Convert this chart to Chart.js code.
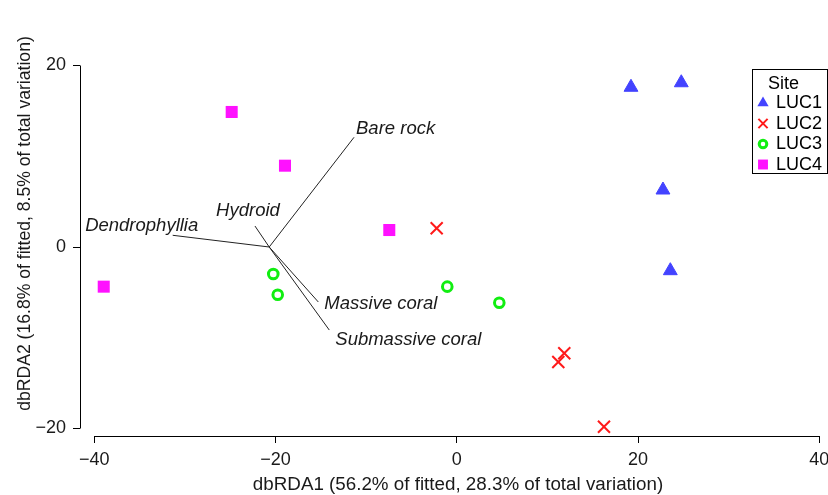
<!DOCTYPE html>
<html>
<head>
<meta charset="utf-8">
<script src="https://cdn.jsdelivr.net/npm/chart.js@4/dist/chart.umd.min.js"></script>
<style>
  html, body { margin: 0; padding: 0; background: #fff; }
  #wrap { width: 828px; height: 495px; position: relative; }
</style>
</head>
<body>
<div id="wrap"><canvas id="c" width="828" height="495"></canvas></div>
<script>
// ---------- DATA ----------
const siteNames = ['LUC1', 'LUC2', 'LUC3', 'LUC4'];
const luc1X = [19.22, 24.77, 22.75, 23.56];
const luc1Y = [17.60, 18.10, 6.28, -2.61];
const luc2X = [-2.22, 11.86, 11.20, 16.24];
const luc2Y = [2.06, -11.71, -12.67, -19.80];
const luc3X = [-20.25, -19.76, -1.05, 4.69];
const luc3Y = [-2.98, -5.26, -4.37, -6.14];
const luc4X = [-24.84, -18.96, -7.45, -38.96];
const luc4Y = [14.88, 8.96, 1.87, -4.37];

const vectorNames = ['Bare rock', 'Dendrophyllia', 'Hydroid', 'Massive coral', 'Submassive coral'];
const vectorOriginX = -20.7;
const vectorOriginY = 0.0;
const vectorEndX = [-11.34, -31.35, -22.27, -15.28, -14.07];
const vectorEndY = [12.09, 1.29, 2.31, -6.06, -9.15];

const xTicks = [-40, -20, 0, 20, 40];
const xTickLabels = ['\u221240', '\u221220', '0', '20', '40'];
const yTicks = [-20, 0, 20];
const yTickLabels = ['\u221220', '0', '20'];

const xTitle = 'dbRDA1 (56.2% of fitted, 28.3% of total variation)';
const yTitle = 'dbRDA2 (16.8% of fitted, 8.5% of total variation)';
const legendTitle = 'Site';

// ---------- STYLES / LAYOUT ----------
const FONT = '"Liberation Sans", Arial, Helvetica, sans-serif';
const TEXT = '#1a1a1a';
const siteStyles = [
  { pointStyle: 'triangle', color: '#4343ff', radius: 8, borderWidth: 1, fill: true, legendRadius: 6.5 },
  { pointStyle: 'crossRot', color: '#ff1a1a', radius: 8.5, borderWidth: 2, fill: false, legendRadius: 6.5 },
  { pointStyle: 'circle', color: '#11ee11', radius: 4.8, borderWidth: 3, fill: false, legendRadius: 3.8 },
  { pointStyle: 'rect', color: '#ff11ff', radius: 8.5, borderWidth: 0, fill: true, legendRadius: 7 }
];
// label offsets (px) relative to each vector end: [dx, dy, align]
const vectorLabelOffsets = [
  [2, -8.5, 'left'],
  [-31, -9.5, 'center'],
  [-7, -15, 'center'],
  [6, 1.5, 'left'],
  [6, 9.5, 'left']
];
// where the first/last tick should land on the canvas (px)
const X_TICK_PX = [94.3, 819.3];
const Y_TICK_PX = [428.5, 65.5];
const X_TITLE_POS = [458, 485];

const siteX = [luc1X, luc2X, luc3X, luc4X];
const siteY = [luc1Y, luc2Y, luc3Y, luc4Y];

const datasets = [];
vectorNames.forEach((name, i) => {
  datasets.push({
    label: name,
    type: 'scatter',
    showLine: true,
    data: [{ x: vectorOriginX, y: vectorOriginY }, { x: vectorEndX[i], y: vectorEndY[i] }],
    borderColor: '#222',
    borderWidth: 1,
    pointRadius: 0,
    pointHoverRadius: 0,
    clip: false,
    order: 10
  });
});
siteNames.forEach((name, i) => {
  const s = siteStyles[i];
  datasets.push({
    label: name,
    type: 'scatter',
    data: siteX[i].map((x, j) => ({ x: x, y: siteY[i][j] })),
    pointStyle: s.pointStyle,
    pointRadius: s.radius,
    pointHoverRadius: s.radius,
    pointBorderWidth: s.borderWidth,
    borderColor: s.color,
    backgroundColor: s.fill ? s.color : 'rgba(0,0,0,0)',
    clip: false,
    order: 1
  });
});

const axisLinesPlugin = {
  id: 'axisLines',
  afterDraw(chart) {
    const ctx = chart.ctx;
    const xs = chart.scales.x, ys = chart.scales.y;
    ctx.save();
    ctx.strokeStyle = '#000';
    ctx.lineWidth = 1;
    const yb = Math.round(chart.chartArea.bottom) + 0.5;
    ctx.beginPath();
    ctx.moveTo(xs.getPixelForValue(xTicks[0]), yb);
    ctx.lineTo(xs.getPixelForValue(xTicks[xTicks.length - 1]), yb);
    ctx.stroke();
    const xl = Math.round(chart.chartArea.left) + 0.5;
    ctx.beginPath();
    ctx.moveTo(xl, ys.getPixelForValue(yTicks[0]));
    ctx.lineTo(xl, ys.getPixelForValue(yTicks[yTicks.length - 1]));
    ctx.stroke();
    // x-axis title
    ctx.fillStyle = TEXT;
    ctx.font = '18.8px ' + FONT;
    ctx.textAlign = 'center';
    ctx.textBaseline = 'middle';
    ctx.fillText(xTitle, X_TITLE_POS[0], X_TITLE_POS[1]);
    ctx.restore();
  }
};

const vectorLabelPlugin = {
  id: 'vectorLabels',
  afterDatasetsDraw(chart) {
    const ctx = chart.ctx;
    const xs = chart.scales.x, ys = chart.scales.y;
    ctx.save();
    ctx.font = 'italic 18.5px ' + FONT;
    ctx.fillStyle = TEXT;
    ctx.textBaseline = 'middle';
    vectorNames.forEach((name, i) => {
      const o = vectorLabelOffsets[i];
      ctx.textAlign = o[2];
      ctx.fillText(name, xs.getPixelForValue(vectorEndX[i]) + o[0], ys.getPixelForValue(vectorEndY[i]) + o[1]);
    });
    ctx.restore();
  }
};

function drawMarker(ctx, style, r, x, y) {
  ctx.save();
  ctx.strokeStyle = style.color;
  ctx.fillStyle = style.color;
  ctx.lineWidth = style.borderWidth || 1;
  ctx.beginPath();
  if (style.pointStyle === 'triangle') {
    let rad = 0;
    ctx.moveTo(x + Math.sin(rad) * r, y - Math.cos(rad) * r);
    rad += 2 * Math.PI / 3;
    ctx.lineTo(x + Math.sin(rad) * r, y - Math.cos(rad) * r);
    rad += 2 * Math.PI / 3;
    ctx.lineTo(x + Math.sin(rad) * r, y - Math.cos(rad) * r);
    ctx.closePath();
    ctx.fill();
  } else if (style.pointStyle === 'crossRot') {
    const d = r * Math.SQRT1_2;
    ctx.moveTo(x - d, y - d); ctx.lineTo(x + d, y + d);
    ctx.moveTo(x - d, y + d); ctx.lineTo(x + d, y - d);
    ctx.stroke();
  } else if (style.pointStyle === 'circle') {
    ctx.arc(x, y, r, 0, Math.PI * 2);
    ctx.stroke();
  } else {
    const s = r * Math.SQRT1_2;
    ctx.fillRect(x - s, y - s, 2 * s, 2 * s);
  }
  ctx.restore();
}

const legendPlugin = {
  id: 'siteLegend',
  afterDraw(chart) {
    const ctx = chart.ctx;
    const left = 752.5, top = 69.5, right = 827.5, bottom = 173.5;
    ctx.save();
    ctx.fillStyle = '#fff';
    ctx.fillRect(left, top, right - left, bottom - top);
    ctx.strokeStyle = '#000';
    ctx.lineWidth = 1;
    ctx.strokeRect(left, top, right - left, bottom - top);
    ctx.fillStyle = '#000';
    ctx.font = '18px ' + FONT;
    ctx.textBaseline = 'middle';
    ctx.textAlign = 'center';
    ctx.fillText(legendTitle, 783.5, 84);
    ctx.textAlign = 'left';
    siteNames.forEach((name, i) => {
      const y = 103 + i * 20.5;
      drawMarker(ctx, siteStyles[i], siteStyles[i].legendRadius, 763, y);
      ctx.fillStyle = '#000';
      ctx.fillText(name, 776, y + 0.5);
    });
    ctx.restore();
  }
};

const chart = new Chart(document.getElementById('c'), {
  type: 'scatter',
  data: { datasets: datasets },
  options: {
    responsive: false,
    animation: false,
    devicePixelRatio: 1,
    layout: { padding: { top: 11, right: 0, left: 0, bottom: 0 } },
    plugins: { legend: { display: false }, tooltip: { enabled: false } },
    scales: {
      x: {
        type: 'linear',
        position: 'bottom',
        min: -41.6,
        max: 41,
        afterBuildTicks(scale) { scale.ticks = xTicks.map(v => ({ value: v })); },
        afterFit(scale) { scale.height = 59; scale.paddingLeft = 0; scale.paddingRight = 0; },
        border: { display: false },
        grid: { drawOnChartArea: false, drawTicks: true, tickLength: 7, color: '#000', lineWidth: 1 },
        ticks: {
          autoSkip: false, maxRotation: 0, padding: 6, color: TEXT,
          font: { family: FONT, size: 18 },
          callback: (v) => { const i = xTicks.indexOf(v); return i >= 0 ? xTickLabels[i] : ''; }
        },
        title: { display: false }
      },
      y: {
        type: 'linear',
        position: 'left',
        min: -20.9,
        max: 26,
        afterBuildTicks(scale) { scale.ticks = yTicks.map(v => ({ value: v })); },
        afterFit(scale) { scale.width = 80; scale.paddingTop = 0; scale.paddingBottom = 0; },
        border: { display: false },
        grid: { drawOnChartArea: false, drawTicks: true, tickLength: 7, color: '#000', lineWidth: 1 },
        ticks: {
          autoSkip: false, padding: 7, color: TEXT,
          font: { family: FONT, size: 18 },
          callback: (v) => { const i = yTicks.indexOf(v); return i >= 0 ? yTickLabels[i] : ''; }
        },
        title: { display: true, text: yTitle, color: TEXT, font: { family: FONT, size: 17.6 }, padding: { top: 15, bottom: 0 } }
      }
    }
  },
  plugins: [axisLinesPlugin, vectorLabelPlugin, legendPlugin]
});

// fit the scale ranges so the end ticks land where the reference has them
for (let k = 0; k < 4; k++) {
  const ca = chart.chartArea;
  const xU = (X_TICK_PX[1] - X_TICK_PX[0]) / (xTicks[xTicks.length - 1] - xTicks[0]);
  const yU = (Y_TICK_PX[0] - Y_TICK_PX[1]) / (yTicks[yTicks.length - 1] - yTicks[0]);
  chart.options.scales.x.min = xTicks[0] - (X_TICK_PX[0] - ca.left) / xU;
  chart.options.scales.x.max = xTicks[xTicks.length - 1] + (ca.right - X_TICK_PX[1]) / xU;
  chart.options.scales.y.min = yTicks[0] - (ca.bottom - Y_TICK_PX[0]) / yU;
  chart.options.scales.y.max = yTicks[yTicks.length - 1] + (Y_TICK_PX[1] - ca.top) / yU;
  chart.update('none');
}
</script>
</body>
</html>
